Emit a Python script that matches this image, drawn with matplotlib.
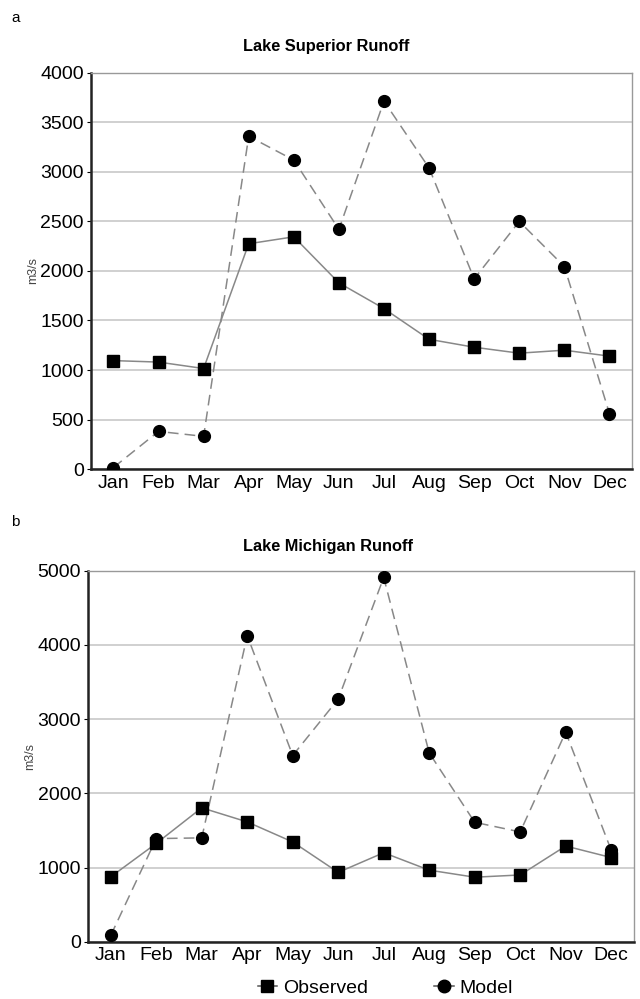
import matplotlib.pyplot as plt
from matplotlib.lines import Line2D

plt.rcParams['font.family'] = ['Liberation Sans', 'DejaVu Sans']

months = ["Jan", "Feb", "Mar", "Apr", "May", "Jun",
          "Jul", "Aug", "Sep", "Oct", "Nov", "Dec"]

superior_observed = [1095, 1080, 1015, 2275, 2345, 1880, 1620, 1310, 1230, 1170, 1200, 1140]
superior_model = [15, 380, 330, 3360, 3120, 2420, 3715, 3040, 1920, 2500, 2045, 560]

michigan_observed = [875, 1325, 1805, 1615, 1345, 935, 1200, 965, 870, 900, 1290, 1135]
michigan_model = [85, 1390, 1400, 4125, 2510, 3270, 4910, 2545, 1610, 1480, 2825, 1235]

fig = plt.figure(figsize=(6.4, 9.99), dpi=100)

ax1 = fig.add_axes([0.142, 0.5305, 0.8455, 0.3965])
ax2 = fig.add_axes([0.1375, 0.0573, 0.853, 0.3714])


def draw(ax, obs, mod, ymax, step):
    x = list(range(len(months)))
    ax.plot(x, mod, color="#888888", linestyle=(0, (7, 4)), linewidth=1.1,
            marker="o", markersize=8.5, markerfacecolor="black",
            markeredgecolor="black", zorder=3)
    ax.plot(x, obs, color="#888888", linestyle="-", linewidth=1.1,
            marker="s", markersize=9, markerfacecolor="black",
            markeredgecolor="black", zorder=4)
    ax.set_xlim(-0.5, 11.5)
    ax.set_ylim(0, ymax)
    ax.set_yticks(range(0, ymax + 1, step))
    ax.set_xticks(x)
    ax.set_xticklabels(months)
    ax.tick_params(axis="both", labelsize=14, length=3, color="black")
    ax.tick_params(axis="x", length=0, pad=4)
    ax.tick_params(axis="y", pad=2)
    ax.yaxis.grid(True, color="#c8c8c8", linewidth=1.2)
    ax.set_axisbelow(True)
    for side in ["left", "bottom"]:
        ax.spines[side].set_linewidth(1.8)
        ax.spines[side].set_color("#222222")
    for side in ["top", "right"]:
        ax.spines[side].set_linewidth(1.0)
        ax.spines[side].set_color("#999999")
    ax.set_ylabel("m3/s", fontsize=9, color="#444444", labelpad=1)


draw(ax1, superior_observed, superior_model, 4000, 500)
draw(ax2, michigan_observed, michigan_model, 5000, 1000)

fig.text(0.51, 1 - 46 / 999, "Lake Superior Runoff", fontsize=11.8,
         fontweight="bold", ha="center", va="center")
fig.text(0.513, 1 - 547 / 999, "Lake Michigan Runoff", fontsize=11.8,
         fontweight="bold", ha="center", va="center")

fig.text(0.018, 0.982, "a", fontsize=11, va="center")
fig.text(0.018, 0.477, "b", fontsize=11, va="center")

handles = [
    Line2D([], [], color="#555555", linewidth=1.1, marker="s", markersize=9,
           markerfacecolor="black", markeredgecolor="black"),
    Line2D([], [], color="#555555", linewidth=1.1, marker="o", markersize=9,
           markerfacecolor="black", markeredgecolor="black"),
]
fig.legend(handles, ["Observed", "Model"], loc="center", ncol=2,
           bbox_to_anchor=(0.602, 0.011), frameon=False, fontsize=14,
           handlelength=1.0, handletextpad=0.3, columnspacing=3.4)

fig.savefig("out.png", dpi=100)
